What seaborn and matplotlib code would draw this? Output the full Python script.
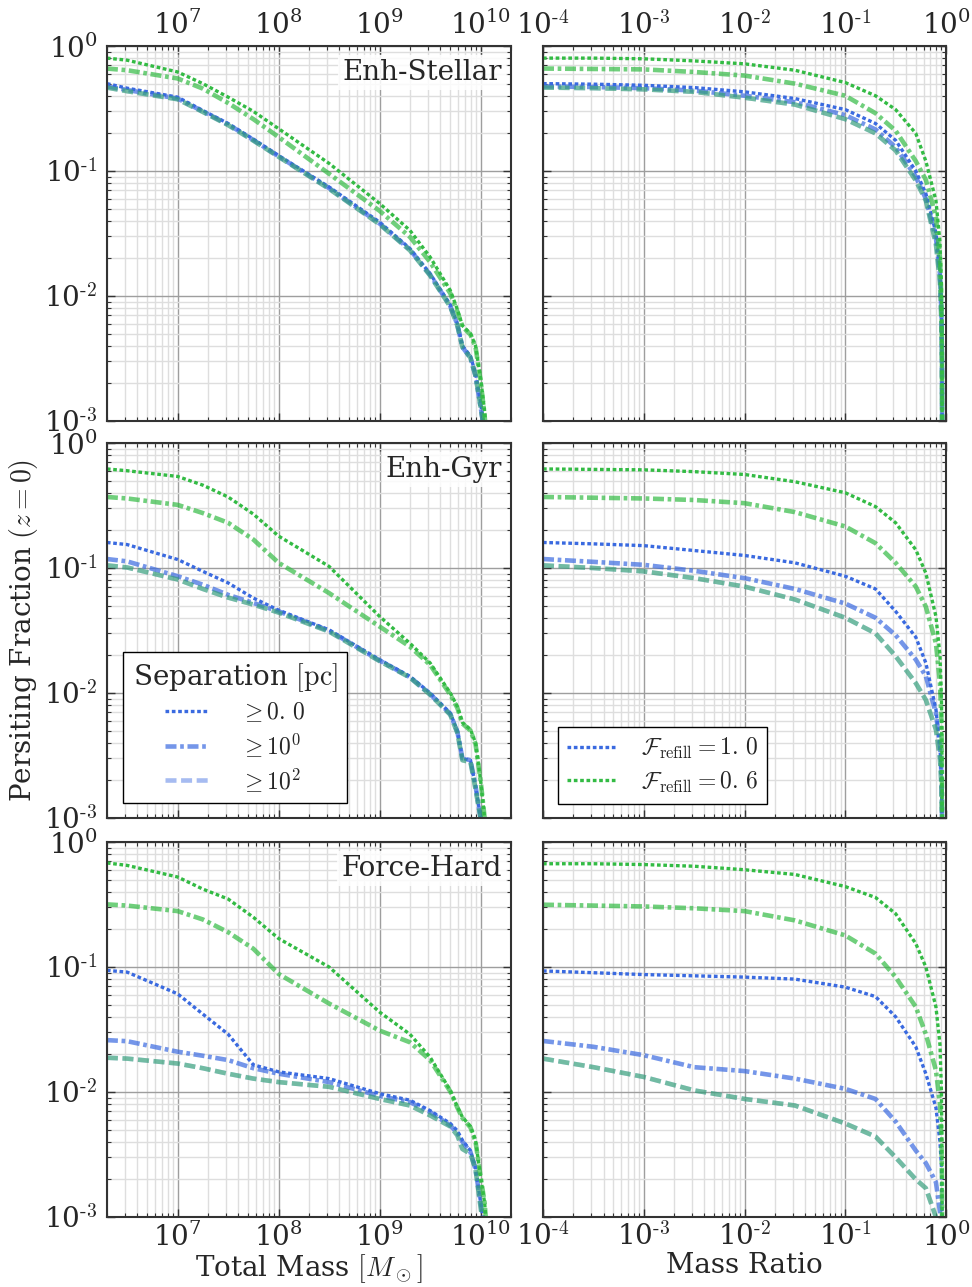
import numpy as np
import matplotlib
matplotlib.use('Agg')
import matplotlib.pyplot as plt
from matplotlib.lines import Line2D
from matplotlib.ticker import LogLocator, FuncFormatter, NullFormatter
import seaborn as sns

# ---------------- data ----------------
# log10 total mass grid [Msun] (left column)
LOG_MTOT = [6.3, 6.5, 7.0, 7.25, 7.5, 7.75, 8.0, 8.5, 9.0, 9.3, 9.5, 9.7, 9.77, 9.82, 9.9, 9.95, 10.0, 10.04, 10.1]
# log10 mass ratio grid (right column)
LOG_Q = [-4, -3.5, -3, -2.5, -2, -1.5, -1, -0.7, -0.5, -0.3, -0.2, -0.1, -0.06, -0.045, -0.04, -0.035]

# Enh-Stellar, total mass
STEL_M_F10_S0 = [0.50, 0.46, 0.39, 0.305, 0.24, 0.18, 0.133, 0.0745, 0.039, 0.024, 0.0151, 0.0085, 0.006, 0.0040, 0.0033, 0.0024, 0.0014, 0.0008, 0.0003]
STEL_M_F10_S1 = [0.475, 0.445, 0.38, 0.30, 0.236, 0.177, 0.131, 0.073, 0.038, 0.0235, 0.0148, 0.0083, 0.0059, 0.0039, 0.0032, 0.0023, 0.0013, 0.0008, 0.0003]
STEL_M_F10_S2 = [0.465, 0.435, 0.375, 0.297, 0.233, 0.175, 0.130, 0.072, 0.0375, 0.0232, 0.0146, 0.0082, 0.0058, 0.0039, 0.0032, 0.0023, 0.0013, 0.0008, 0.0003]
STEL_M_F06_S0 = [0.80, 0.77, 0.62, 0.50, 0.39, 0.30, 0.218, 0.115, 0.055, 0.0335, 0.0205, 0.0111, 0.0078, 0.0058, 0.0050, 0.0040, 0.0022, 0.0012, 0.0003]
STEL_M_F06_S1 = [0.66, 0.64, 0.55, 0.456, 0.35, 0.26, 0.187, 0.095, 0.048, 0.0297, 0.0187, 0.0105, 0.0075, 0.0057, 0.0049, 0.0039, 0.0021, 0.0011, 0.0003]
STEL_M_F06_S2 = [0.465, 0.435, 0.375, 0.297, 0.233, 0.175, 0.130, 0.072, 0.0375, 0.0232, 0.0146, 0.0082, 0.0058, 0.0039, 0.0032, 0.0023, 0.0013, 0.0008, 0.0003]

# Enh-Gyr, total mass
GYR_M_F10_S0 = [0.16, 0.154, 0.117, 0.094, 0.076, 0.0575, 0.046, 0.032, 0.0185, 0.0136, 0.010, 0.0069, 0.005, 0.0030, 0.0029, 0.0018, 0.0010, 0.0005, 0.0002]
GYR_M_F10_S1 = [0.118, 0.113, 0.086, 0.0735, 0.061, 0.0525, 0.045, 0.0315, 0.0182, 0.0134, 0.0098, 0.0068, 0.0049, 0.0030, 0.0029, 0.0018, 0.0010, 0.0005, 0.0002]
GYR_M_F10_S2 = [0.105, 0.101, 0.081, 0.068, 0.058, 0.051, 0.044, 0.031, 0.018, 0.0133, 0.0097, 0.0067, 0.0048, 0.0029, 0.0028, 0.0017, 0.0010, 0.0005, 0.0002]
GYR_M_F06_S0 = [0.62, 0.60, 0.54, 0.46, 0.37, 0.27, 0.18, 0.103, 0.041, 0.025, 0.0174, 0.0100, 0.0078, 0.0058, 0.0051, 0.0040, 0.0020, 0.0010, 0.0003]
GYR_M_F06_S1 = [0.37, 0.36, 0.32, 0.275, 0.23, 0.169, 0.11, 0.063, 0.034, 0.0235, 0.0168, 0.0097, 0.0076, 0.0057, 0.0050, 0.0039, 0.0020, 0.0010, 0.0003]
GYR_M_F06_S2 = [0.105, 0.101, 0.081, 0.068, 0.058, 0.051, 0.044, 0.031, 0.018, 0.0133, 0.0097, 0.0067, 0.0048, 0.0029, 0.0028, 0.0017, 0.0010, 0.0005, 0.0002]

# Force-Hard, total mass
HARD_M_F10_S0 = [0.094, 0.091, 0.061, 0.042, 0.029, 0.0165, 0.0145, 0.0128, 0.0097, 0.0086, 0.0071, 0.0056, 0.0049, 0.0041, 0.0034, 0.0025, 0.0013, 0.0008, 0.0003]
HARD_M_F10_S1 = [0.026, 0.0255, 0.021, 0.0195, 0.018, 0.0155, 0.014, 0.012, 0.0093, 0.0083, 0.0069, 0.0054, 0.0047, 0.0040, 0.0033, 0.0024, 0.0013, 0.0008, 0.0003]
HARD_M_F10_S2 = [0.0188, 0.0185, 0.0169, 0.0155, 0.014, 0.0128, 0.012, 0.011, 0.0088, 0.0078, 0.0065, 0.0053, 0.0045, 0.0035, 0.0032, 0.0024, 0.0012, 0.0007, 0.0003]
HARD_M_F06_S0 = [0.68, 0.65, 0.525, 0.42, 0.35, 0.25, 0.169, 0.10, 0.0436, 0.029, 0.019, 0.0103, 0.0076, 0.0063, 0.0053, 0.0041, 0.0021, 0.0013, 0.0003]
HARD_M_F06_S1 = [0.317, 0.31, 0.28, 0.24, 0.19, 0.14, 0.088, 0.051, 0.031, 0.025, 0.018, 0.0101, 0.0075, 0.0062, 0.0052, 0.0040, 0.0021, 0.0013, 0.0003]
HARD_M_F06_S2 = [0.0188, 0.0185, 0.0169, 0.0155, 0.014, 0.0128, 0.012, 0.011, 0.0088, 0.0078, 0.0065, 0.0053, 0.0045, 0.0035, 0.0032, 0.0024, 0.0012, 0.0007, 0.0003]

# Enh-Stellar, mass ratio
STEL_Q_F10_S0 = [0.50, 0.495, 0.485, 0.465, 0.43, 0.38, 0.31, 0.24, 0.176, 0.10, 0.066, 0.032, 0.016, 0.008, 0.003, 0.0001]
STEL_Q_F10_S1 = [0.475, 0.47, 0.46, 0.44, 0.40, 0.355, 0.28, 0.215, 0.155, 0.09, 0.06, 0.029, 0.015, 0.007, 0.003, 0.0001]
STEL_Q_F10_S2 = [0.465, 0.46, 0.45, 0.43, 0.386, 0.34, 0.26, 0.20, 0.146, 0.084, 0.058, 0.026, 0.013, 0.006, 0.003, 0.0001]
STEL_Q_F06_S0 = [0.80, 0.80, 0.79, 0.76, 0.72, 0.64, 0.51, 0.40, 0.31, 0.20, 0.12, 0.058, 0.027, 0.012, 0.003, 0.0001]
STEL_Q_F06_S1 = [0.66, 0.655, 0.65, 0.62, 0.58, 0.50, 0.40, 0.29, 0.21, 0.12, 0.085, 0.043, 0.02, 0.009, 0.003, 0.0001]
STEL_Q_F06_S2 = [0.465, 0.46, 0.45, 0.43, 0.386, 0.34, 0.26, 0.20, 0.146, 0.084, 0.058, 0.026, 0.013, 0.006, 0.003, 0.0001]

# Enh-Gyr, mass ratio
GYR_Q_F10_S0 = [0.16, 0.156, 0.151, 0.138, 0.126, 0.11, 0.086, 0.068, 0.045, 0.028, 0.0174, 0.0074, 0.0037, 0.002, 0.001, 0.0001]
GYR_Q_F10_S1 = [0.118, 0.112, 0.106, 0.095, 0.083, 0.068, 0.052, 0.040, 0.029, 0.0185, 0.0136, 0.0069, 0.0038, 0.0022, 0.0012, 0.0001]
GYR_Q_F10_S2 = [0.105, 0.10, 0.094, 0.083, 0.071, 0.056, 0.040, 0.030, 0.0197, 0.012, 0.0088, 0.0051, 0.003, 0.0018, 0.001, 0.0001]
GYR_Q_F06_S0 = [0.62, 0.615, 0.61, 0.59, 0.56, 0.49, 0.40, 0.31, 0.23, 0.14, 0.091, 0.041, 0.02, 0.009, 0.003, 0.0001]
GYR_Q_F06_S1 = [0.37, 0.365, 0.36, 0.35, 0.33, 0.28, 0.215, 0.158, 0.11, 0.071, 0.049, 0.025, 0.012, 0.006, 0.002, 0.0001]
GYR_Q_F06_S2 = [0.105, 0.10, 0.094, 0.083, 0.071, 0.056, 0.040, 0.030, 0.0197, 0.012, 0.0088, 0.0051, 0.003, 0.0018, 0.001, 0.0001]

# Force-Hard, mass ratio
HARD_Q_F10_S0 = [0.093, 0.09, 0.087, 0.085, 0.083, 0.08, 0.069, 0.058, 0.040, 0.023, 0.014, 0.0075, 0.004, 0.0025, 0.0012, 0.0001]
HARD_Q_F10_S1 = [0.0256, 0.023, 0.0197, 0.0158, 0.0147, 0.0128, 0.0106, 0.0088, 0.0058, 0.0034, 0.0027, 0.0019, 0.0011, 0.0006, 0.0003, 0.0001]
HARD_Q_F10_S2 = [0.0185, 0.0158, 0.0132, 0.0103, 0.0088, 0.0078, 0.0056, 0.0044, 0.003, 0.002, 0.0017, 0.001, 0.0004, 0.0002, 0.0001, 0.0001]
HARD_Q_F06_S0 = [0.67, 0.67, 0.66, 0.64, 0.60, 0.55, 0.44, 0.36, 0.267, 0.154, 0.10, 0.048, 0.024, 0.01, 0.003, 0.0001]
HARD_Q_F06_S1 = [0.315, 0.31, 0.305, 0.295, 0.28, 0.236, 0.179, 0.128, 0.083, 0.048, 0.029, 0.0149, 0.008, 0.004, 0.002, 0.0001]
HARD_Q_F06_S2 = [0.0185, 0.0158, 0.0132, 0.0103, 0.0088, 0.0078, 0.0056, 0.0044, 0.003, 0.002, 0.0017, 0.001, 0.0004, 0.0002, 0.0001, 0.0001]

MODELS = ['Enh-Stellar', 'Enh-Gyr', 'Force-Hard']
SEP_LABELS = [r'$\geq 0.\,0$', r'$\geq 10^0$', r'$\geq 10^2$']
REFILL_LABELS = [r'$\mathcal{F}_\mathrm{refill} = 1.\,0$', r'$\mathcal{F}_\mathrm{refill} = 0.\,6$']

# ---------------- style ----------------
sns.set_style('ticks')
plt.rcParams['font.family'] = ['DejaVu Serif']
plt.rcParams['mathtext.fontset'] = 'cm'
plt.rcParams['axes.unicode_minus'] = False

BLUE = '#3a6ae0'
GREEN = '#33bb44'
STYLES = [dict(linestyle=(0, (1.1, 0.8)), lw=2.4, alpha=1.0),
          dict(linestyle=(0, (2.4, 0.8, 0.8, 0.8)), lw=3.3, alpha=0.7),
          dict(linestyle=(0, (2.4, 1.0)), lw=3.3, alpha=0.45)]

FS = 20

fig = plt.figure(figsize=(9.72, 12.87), dpi=100)
W, H = 972.0, 1287.0
cols = [(107, 404), (543, 403)]
rows = [(46, 421), (443, 818), (842, 1217)]

mass = 10.0 ** np.array(LOG_MTOT)
qrat = 10.0 ** np.array(LOG_Q)

panel_data = [
    [(STEL_M_F10_S0, STEL_M_F10_S1, STEL_M_F10_S2), (STEL_M_F06_S0, STEL_M_F06_S1, STEL_M_F06_S2),
     (STEL_Q_F10_S0, STEL_Q_F10_S1, STEL_Q_F10_S2), (STEL_Q_F06_S0, STEL_Q_F06_S1, STEL_Q_F06_S2)],
    [(GYR_M_F10_S0, GYR_M_F10_S1, GYR_M_F10_S2), (GYR_M_F06_S0, GYR_M_F06_S1, GYR_M_F06_S2),
     (GYR_Q_F10_S0, GYR_Q_F10_S1, GYR_Q_F10_S2), (GYR_Q_F06_S0, GYR_Q_F06_S1, GYR_Q_F06_S2)],
    [(HARD_M_F10_S0, HARD_M_F10_S1, HARD_M_F10_S2), (HARD_M_F06_S0, HARD_M_F06_S1, HARD_M_F06_S2),
     (HARD_Q_F10_S0, HARD_Q_F10_S1, HARD_Q_F10_S2), (HARD_Q_F06_S0, HARD_Q_F06_S1, HARD_Q_F06_S2)],
]


def logfmt(v, pos):
    e = int(np.round(np.log10(v)))
    if e < 0:
        return r'$\mathregular{10^{\text{-%d}}}$' % (-e)
    return r'$\mathregular{10^{%d}}$' % e


axes = {}
for r, (t, b) in enumerate(rows):
    for c, (x0, w) in enumerate(cols):
        ax = fig.add_axes([x0 / W, 1 - b / H, w / W, (b - t) / H])
        axes[(r, c)] = ax
        ax.set_xscale('log')
        ax.set_yscale('log')
        xvals = mass if c == 0 else qrat
        blue_set = panel_data[r][0] if c == 0 else panel_data[r][2]
        green_set = panel_data[r][1] if c == 0 else panel_data[r][3]
        for color, sset in ((BLUE, blue_set), (GREEN, green_set)):
            for vals, st in zip(sset, STYLES):
                sns.lineplot(x=xvals, y=np.array(vals), ax=ax, color=color,
                             linestyle=st['linestyle'], lw=st['lw'], alpha=st['alpha'],
                             legend=False, solid_capstyle='butt', dash_capstyle='butt')
        if c == 0:
            ax.set_xlim(2e6, 2e10)
        else:
            ax.set_xlim(1e-4, 1.0)
        ax.set_ylim(1e-3, 1.0)
        for axis in (ax.xaxis, ax.yaxis):
            axis.set_major_locator(LogLocator(base=10, numticks=30))
            axis.set_minor_locator(LogLocator(base=10, subs=np.arange(2, 10), numticks=100))
            axis.set_major_formatter(FuncFormatter(logfmt))
            axis.set_minor_formatter(NullFormatter())
        ax.set_axisbelow(True)
        ax.grid(True, which='minor', color='0.87', lw=1.0)
        ax.grid(True, which='major', color='0.62', lw=1.0)
        for sp in ax.spines.values():
            sp.set_color('0.2')
            sp.set_linewidth(1.5)
        ax.tick_params(which='both', direction='in', top=True, right=True,
                       labelsize=FS, color='0.2')
        ax.tick_params(which='major', length=6, width=1.0, pad=7)
        ax.tick_params(which='minor', length=3, width=0.8)
        ax.tick_params(axis='x', which='major', pad=4)
        ax.tick_params(axis='x', labeltop=(r == 0), labelbottom=(r == 2))
        ax.tick_params(axis='y', labelleft=(c == 0), labelright=False)
        ax.set_xlabel('')
        ax.set_ylabel('')
        if c == 0:
            ax.text(0.978, 0.93, MODELS[r], transform=ax.transAxes, ha='right', va='center',
                    fontsize=FS, zorder=6,
                    bbox=dict(fc='white', ec='none', alpha=0.85, pad=3))

axes[(2, 0)].set_xlabel(r'Total Mass $[M_\odot]$', fontsize=FS, labelpad=0)
axes[(2, 1)].set_xlabel('Mass Ratio', fontsize=FS, labelpad=0)
fig.text(0.024, 0.51, r'Persiting Fraction $(z=0)$', rotation=90, ha='center', va='center', fontsize=FS)

# legends
h1 = [Line2D([], [], color=BLUE, linestyle=st['linestyle'], lw=st['lw'], alpha=st['alpha'])
      for st in STYLES]
leg1 = axes[(1, 0)].legend(h1, SEP_LABELS, title=r'Separation $[\mathrm{pc}]$',
                           loc='lower left', bbox_to_anchor=(0.04, 0.04), borderaxespad=0,
                           fontsize=17, title_fontsize=FS, fancybox=False, framealpha=1,
                           edgecolor='black', handlelength=1.9, handletextpad=1.3,
                           labelspacing=0.28)
leg1.get_frame().set_linewidth(1.0)
h2 = [Line2D([], [], color=col, **{k: v for k, v in STYLES[0].items()}) for col in (BLUE, GREEN)]
leg2 = axes[(1, 1)].legend(h2, REFILL_LABELS, loc='lower left', bbox_to_anchor=(0.037, 0.037),
                           borderaxespad=0, fontsize=17, fancybox=False, framealpha=1,
                           edgecolor='black', handlelength=2.0, handletextpad=1.1,
                           labelspacing=0.35)
leg2.get_frame().set_linewidth(1.0)

fig.savefig('out.png', dpi=100)
